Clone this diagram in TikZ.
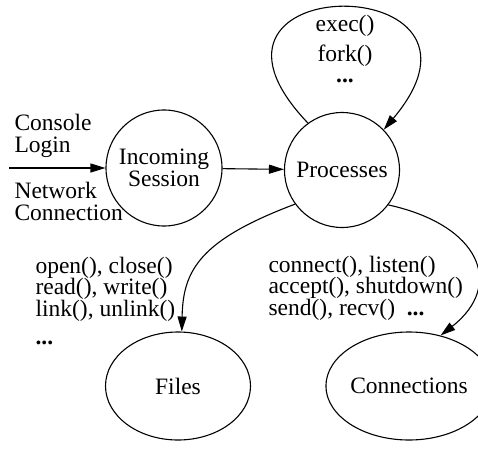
\documentclass[tikz,border=0pt]{standalone}
\usepackage{fontspec}
\setmainfont{Liberation Serif}
\usetikzlibrary{arrows.meta,shapes.geometric}
\begin{document}
\begin{tikzpicture}[x=1pt,y=-1pt,line width=1.1pt,
    font=\fontsize{23.5}{21.5}\selectfont,
    every node/.style={inner sep=0pt},
    arr/.style={-{Triangle[length=15pt,width=9pt]}},
    state/.style={draw,circle,minimum size=116pt,align=center},
    obj/.style={draw,ellipse,minimum height=108pt},
    txt/.style={anchor=base west,align=left}]
    \useasboundingbox (0,0) rectangle (478,449);

    \node[state] (sess) at (164,168) {Incoming\\Session};
    \node[state, minimum size=115pt] (proc) at (342,170) {Processes};
    \node[obj, minimum width=145pt] (files) at (178,386) {Files};
    \node[obj, minimum width=140pt] (conn) at (409,386) {Connections};

    \coordinate (in) at (9,168);

    % multi-line nodes: base = baseline of the last line
    \node[txt] (console) at (14,152) {Console\\Login};
    \node[txt] (network) at (14,220) {Network\\Connection};
    \node[align=center, anchor=base] (sysproc) at (345,83) {exec()\\[7.5pt]fork()\\\textbf{...}};
    \node[txt] (sysfile) at (35,344) {open(), close()\\read(), write()\\link(), unlink()\\[6.5pt]\textbf{...}};
    \node[txt] (sysconn) at (268,315) {connect(), listen()\\accept(), shutdown()\\send(), recv()\enspace\textbf{...}};

    \draw[arr] (in) -- (sess.west);
    \draw[arr] (sess) -- (proc);
    \draw[arr] (proc.126) .. controls (160,-32) and (520,-32) .. (proc.44);
    \draw[arr] (proc.216) .. controls (200,240) and (183,270) .. (files.86);
    \draw[arr] (proc.323) .. controls (480,225) and (505,285) .. (conn.58);
\end{tikzpicture}
\end{document}
